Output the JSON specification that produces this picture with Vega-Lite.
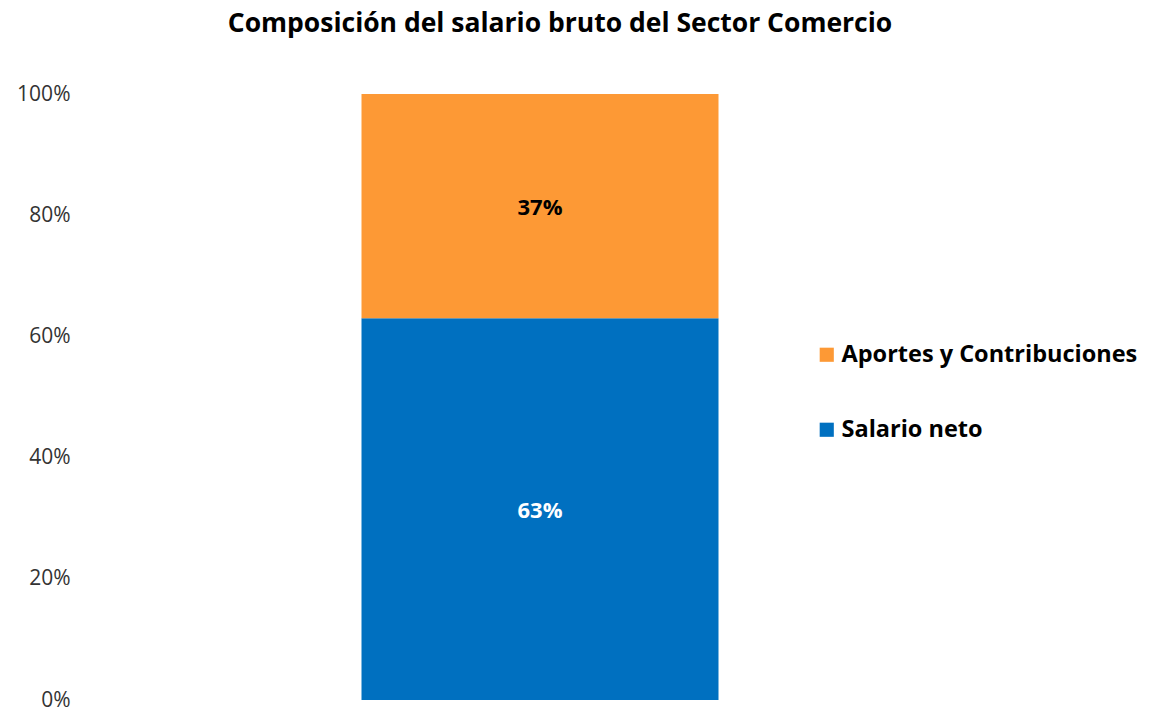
{
  "$schema": "https://vega.github.io/schema/vega-lite/v6.json",
  "autosize": {"type": "none"},
  "width": 920,
  "height": 606,
  "padding": {"top": 94, "left": 80, "right": 154, "bottom": 13},
  "background": "white",
  "config": {"view": {"stroke": null}, "font": "Open Sans"},
  "title": {
    "text": "Composición del salario bruto del Sector Comercio",
    "fontSize": 26.5,
    "fontWeight": "bold",
    "font": "Open Sans",
    "color": "#000000",
    "offset": 46,
    "dx": 20
  },
  "data": {
    "values": [
      {"cat": "Comercio", "serie": "Salario neto", "value": 63, "label": "63%"},
      {"cat": "Comercio", "serie": "Aportes y Contribuciones", "value": 37, "label": "37%"}
    ]
  },
  "transform": [
    {"stack": "value", "groupby": ["cat"], "sort": [{"field": "serie", "order": "descending"}], "as": ["v0", "v1"]},
    {"calculate": "(datum.v0 + datum.v1) / 2", "as": "vmid"}
  ],
  "encoding": {
    "x": {"field": "cat", "type": "nominal", "axis": null}
  },
  "layer": [
    {
      "mark": {"type": "bar", "width": 357},
      "encoding": {
        "y": {
          "field": "v0",
          "type": "quantitative",
          "scale": {"domain": [0, 100], "nice": false},
          "axis": {
            "values": [0, 20, 40, 60, 80, 100],
            "labelExpr": "datum.value + '%'",
            "title": null,
            "domain": false,
            "ticks": false,
            "grid": false,
            "labelFontSize": 21,
            "labelColor": "#333333",
            "labelFont": "Open Sans",
            "labelPadding": 10
          }
        },
        "y2": {"field": "v1"},
        "color": {
          "field": "serie",
          "type": "nominal",
          "scale": {"domain": ["Aportes y Contribuciones", "Salario neto"], "range": ["#FD9935", "#0070C0"]},
          "legend": {
            "orient": "none",
            "legendX": 735,
            "legendY": 249,
            "title": null,
            "symbolType": "square",
            "symbolSize": 200,
            "symbolStrokeWidth": 0,
            "labelFontSize": 23.5,
            "labelFontWeight": "bold",
            "labelFont": "Open Sans",
            "labelColor": "#000000",
            "rowPadding": 50,
            "labelOffset": 3,
            "labelLimit": 400
          }
        }
      }
    },
    {
      "mark": {"type": "text", "fontSize": 22, "fontWeight": "bold", "font": "Open Sans", "dy": 2},
      "encoding": {
        "y": {"field": "vmid", "type": "quantitative"},
        "text": {"field": "label"},
        "fill": {
          "field": "serie",
          "type": "nominal",
          "scale": {"domain": ["Aportes y Contribuciones", "Salario neto"], "range": ["#000000", "#FFFFFF"]},
          "legend": null
        }
      }
    }
  ]
}
